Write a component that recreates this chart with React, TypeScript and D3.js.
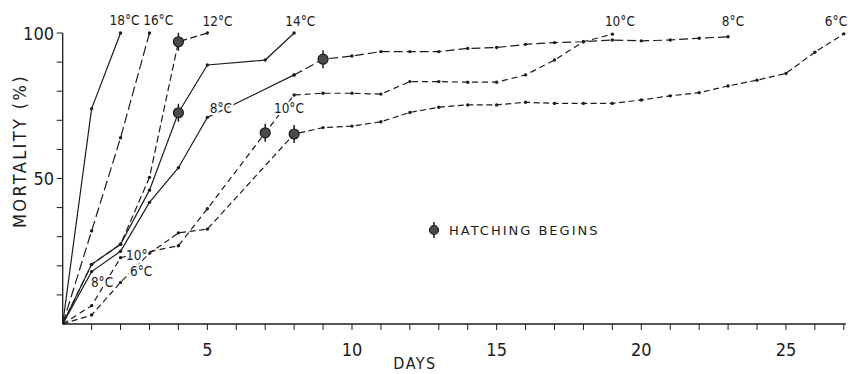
import * as d3 from "d3";

// mortality (%) by day, per incubation temperature
const s18: [number, number][] = [[0, 0], [1, 74], [2, 100]];
const s16: [number, number][] = [[0, 0], [1, 32], [2, 64], [3, 100]];
const s12: [number, number][] = [[0, 0], [1, 20.5], [2, 27.4], [3, 50.4], [4, 97], [5, 100]];
const s14: [number, number][] = [[0, 0], [1, 20.5], [2, 27.4], [3, 46], [4, 72.6], [5, 89], [7, 90.7], [8, 100]];
const s8: [number, number][] = [
  [0, 0], [1, 18], [2, 25], [3, 41.8], [4, 53.7], [5, 71], [8, 85.6], [9, 91], [10, 92.1],
  [11, 93.6], [12, 93.6], [13, 93.6], [14, 94.7], [15, 95], [16, 96.1], [17, 96.7], [18, 97],
  [19, 97.6], [20, 97.3], [21, 97.6], [22, 98.2], [23, 98.7],
];
const s10: [number, number][] = [
  [0, 0], [1, 6.3], [2, 22.8], [4, 26.9], [5, 39.6], [7, 65.7], [8, 78.7], [9, 79.3], [10, 79.3],
  [11, 79], [12, 83.3], [13, 83.3], [14, 83.1], [15, 83.1], [16, 85.6], [17, 90.7], [18, 97], [19, 99.6],
];
const s6: [number, number][] = [
  [0, 0], [1, 3.1], [2, 14.3], [3, 24.3], [4, 31.3], [5, 32.6], [8, 65.3], [9, 67.5], [10, 68],
  [11, 69.5], [12, 72.7], [13, 74.5], [14, 75.3], [15, 75.3], [16, 76.2], [17, 75.8], [18, 75.8],
  [19, 75.8], [20, 77], [21, 78.4], [22, 79.5], [23, 81.8], [24, 83.8], [25, 86.1], [26, 93.4], [27, 99.7],
];

// day at which hatching begins, on each curve
const hatching: [number, number][] = [[4, 97], [4, 72.6], [7, 65.7], [8, 65.3], [9, 91]];

// temperature labels: [day, %, text]
const tempLabels: [number, number, string][] = [
  [2.14, 102.7, "18°C"], [3.3, 102.7, "16°C"], [5.35, 102.4, "12°C"], [8.21, 102.4, "14°C"],
  [19.26, 102.4, "10°C"], [23.17, 102.4, "8°C"], [26.73, 102.4, "6°C"],
  [5.47, 72.6, "8°C"], [7.82, 72.4, "10°C"],
  [2.56, 22, "10°"], [2.71, 16.6, "6°C"], [1.36, 12.8, "8°C"],
];

const xTicks = [5, 10, 15, 20, 25];
const yTicks = [50, 100];

const W = 848;
const H = 374;
const x = d3.scaleLinear().domain([0, 27]).range([62.7, 843.8]);
const y = d3.scaleLinear().domain([0, 100]).range([324, 33]);
const ink = "#1c1c1c";
const font = "'DejaVu Sans Condensed', 'DejaVu Sans', sans-serif";

const line = d3
  .line<[number, number]>()
  .x((d) => x(d[0]))
  .y((d) => y(d[1]));

const curves = [
  { key: "18", pts: s18, dash: undefined },
  { key: "16", pts: s16, dash: "10,4" },
  { key: "12", pts: s12, dash: "7,3.5" },
  { key: "14", pts: s14, dash: undefined },
  { key: "8a", pts: s8.filter((d) => d[0] <= 8), dash: undefined },
  { key: "8b", pts: s8.filter((d) => d[0] >= 8), dash: "9,4" },
  { key: "10", pts: s10, dash: "6,4" },
  { key: "6", pts: s6, dash: "6,3.5" },
];

export default function App() {
  return (
    <svg
      width={W}
      height={H}
      style={{ position: "absolute", left: 0, top: 0, background: "#fff" }}
      fontFamily={font}
    >
      {/* axes */}
      <g stroke={ink} strokeWidth={1.3} fill="none">
        <line x1={x(0)} x2={x(27) + 2} y1={y(0)} y2={y(0)} />
        <line x1={x(0)} x2={x(0)} y1={y(0)} y2={y(100)} />
        {d3.range(1, 28).map((t) => (
          <line key={"xt" + t} x1={x(t)} x2={x(t)} y1={y(0)} y2={y(0) + 6} strokeWidth={1} />
        ))}
        {d3.range(10, 101, 10).map((t) => (
          <line key={"yt" + t} x1={x(0) - 6} x2={x(0)} y1={y(t)} y2={y(t)} strokeWidth={1} />
        ))}
      </g>
      <g fill={ink} fontSize={18}>
        {xTicks.map((t) => (
          <text key={t} x={x(t)} y={355.5} textAnchor="middle">
            {t}
          </text>
        ))}
        {yTicks.map((t) => (
          <text key={t} x={54} y={y(t) + 6.5} textAnchor="end">
            {t}
          </text>
        ))}
        <text x={415} y={369} textAnchor="middle" fontSize={16} letterSpacing={1.5}>
          DAYS
        </text>
        <text
          transform={`translate(26,151) rotate(-90)`}
          textAnchor="middle"
          fontSize={18}
          letterSpacing={2.4}
        >
          MORTALITY (%)
        </text>
      </g>

      {/* curves */}
      {curves.map((c) => (
        <path
          key={c.key}
          d={line(c.pts) ?? ""}
          fill="none"
          stroke={ink}
          strokeWidth={1.2}
          strokeDasharray={c.dash}
        />
      ))}
      {curves.map((c) =>
        c.pts
          .filter((d) => d[0] > 0)
          .map((d, i) => <circle key={c.key + i} cx={x(d[0])} cy={y(d[1])} r={1.7} fill={ink} />)
      )}

      {/* labels */}
      <g fill={ink} fontSize={13.5} textAnchor="middle">
        {tempLabels.map(([d, p, t], i) => (
          <text
            key={i}
            x={x(d)}
            y={y(p)}
            stroke="#fff"
            strokeWidth={i >= 7 ? 4 : 0}
            paintOrder="stroke"
          >
            {t}
          </text>
        ))}
      </g>

      {/* hatching markers */}
      {hatching.map(([d, p], i) => (
        <g key={i} transform={`translate(${x(d)},${y(p)})`}>
          <line y1={-9} y2={9} stroke={ink} strokeWidth={1.5} />
          <circle r={5} fill="#4a4a4a" stroke={ink} strokeWidth={1.2} />
        </g>
      ))}

      {/* legend */}
      <g transform="translate(434,230)">
        <line y1={-8} y2={8} stroke={ink} strokeWidth={1.5} />
        <circle r={4.5} fill="#4a4a4a" stroke={ink} strokeWidth={1.2} />
      </g>
      <text x={449} y={235} fontSize={13} letterSpacing={2} fill={ink} fontFamily="'DejaVu Sans', sans-serif">
        HATCHING BEGINS
      </text>
    </svg>
  );
}
